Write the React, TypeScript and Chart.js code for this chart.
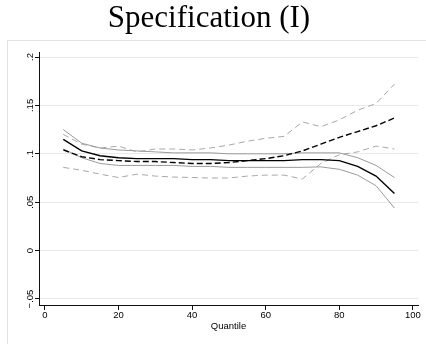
import React, { useEffect, useRef } from "react";
import { Chart, registerables } from "chart.js";

Chart.register(...registerables);

// ---- Data ----
const quantiles = [5, 10, 15, 20, 25, 30, 35, 40, 45, 50, 55, 60, 65, 70, 75, 80, 85, 90, 95];

const estSolid = [0.115, 0.103, 0.098, 0.096, 0.095, 0.095, 0.095, 0.094, 0.094, 0.093, 0.093, 0.093, 0.093, 0.094, 0.094, 0.093, 0.087, 0.077, 0.059];
const ciSolidHigh = [0.125, 0.111, 0.106, 0.104, 0.103, 0.102, 0.101, 0.101, 0.101, 0.1, 0.1, 0.1, 0.1, 0.101, 0.101, 0.101, 0.096, 0.088, 0.0755];
const ciSolidLow = [0.105, 0.096, 0.09, 0.088, 0.088, 0.088, 0.088, 0.087, 0.087, 0.086, 0.086, 0.086, 0.086, 0.086, 0.0865, 0.084, 0.078, 0.067, 0.044];

const estDashed = [0.104, 0.097, 0.094, 0.093, 0.092, 0.092, 0.091, 0.09, 0.09, 0.091, 0.093, 0.095, 0.098, 0.103, 0.11, 0.117, 0.123, 0.129, 0.137];
const ciDashedHigh = [0.12, 0.11, 0.106, 0.108, 0.102, 0.105, 0.105, 0.104, 0.106, 0.109, 0.113, 0.116, 0.118, 0.133, 0.128, 0.135, 0.145, 0.152, 0.172];
const ciDashedLow = [0.086, 0.083, 0.079, 0.0755, 0.079, 0.077, 0.076, 0.0755, 0.075, 0.075, 0.077, 0.078, 0.078, 0.074, 0.09, 0.099, 0.102, 0.108, 0.105];

const xTickValues = [0, 20, 40, 60, 80, 100];
const xTickLabels = ["0", "20", "40", "60", "80", "100"];
const yTickValues = [-0.05, 0, 0.05, 0.1, 0.15, 0.2];
const yTickLabels = ["\u2212.05", "0", ".05", ".1", ".15", ".2"];

const titleText = "Specification (I)";
const xAxisTitle = "Quantile";

const pts = (vals: number[]) => quantiles.map((q, i) => ({ x: q, y: vals[i] }));

const framePlugin = {
  id: "outerFrame",
  beforeDraw(chart: any) {
    const ctx = chart.ctx;
    ctx.save();
    ctx.strokeStyle = "#e2e2e2";
    ctx.lineWidth = 1;
    ctx.strokeRect(7.5, 40.5, 430, 320);
    ctx.restore();
  },
};

const yLabelPlugin = {
  id: "rotatedYLabels",
  afterDraw(chart: any) {
    const ys = chart.scales.y;
    const ctx = chart.ctx;
    ctx.save();
    ctx.font = '9.5px "Liberation Sans"';
    ctx.fillStyle = "#000";
    ctx.textAlign = "center";
    ctx.textBaseline = "alphabetic";
    ys.ticks.forEach((t: any, i: number) => {
      const y = ys.getPixelForValue(t.value);
      ctx.save();
      ctx.translate(32.5, y);
      ctx.rotate(-Math.PI / 2);
      ctx.fillText(yTickLabels[i], 0, 0);
      ctx.restore();
    });
    ctx.restore();
  },
};

export default function App() {
  const ref = useRef<HTMLCanvasElement | null>(null);

  useEffect(() => {
    if (!ref.current) return;
    const chart = new Chart(ref.current, {
      type: "line",
      data: {
        datasets: [
          { data: pts(estSolid), borderColor: "#000", borderWidth: 1.4 },
          { data: pts(estDashed), borderColor: "#000", borderWidth: 1.4, borderDash: [6, 3] },
          { data: pts(ciSolidHigh), borderColor: "#9a9a9a", borderWidth: 1 },
          { data: pts(ciSolidLow), borderColor: "#9a9a9a", borderWidth: 1 },
          { data: pts(ciDashedHigh), borderColor: "#a8a8a8", borderWidth: 1, borderDash: [6, 4] },
          { data: pts(ciDashedLow), borderColor: "#a8a8a8", borderWidth: 1, borderDash: [6, 4] },
        ] as any,
      },
      options: {
        animation: false,
        responsive: false,
        devicePixelRatio: 1,
        parsing: false as any,
        elements: { point: { radius: 0 }, line: { tension: 0, fill: false } },
        layout: { padding: { left: 0, right: 8, top: 0, bottom: 0 } },
        plugins: {
          legend: { display: false },
          tooltip: { enabled: false },
          title: {
            display: true,
            text: titleText,
            color: "#000",
            font: { family: '"Liberation Serif"', size: 31, weight: "normal", lineHeight: 1.2 },
            padding: { top: 0, bottom: 14.8 },
          },
        },
        scales: {
          x: {
            type: "linear",
            min: -1.6,
            max: 101.4,
            afterBuildTicks: (s: any) => {
              s.ticks = xTickValues.map((v) => ({ value: v }));
            },
            afterFit: (s: any) => {
              s.height = 39;
            },
            ticks: {
              autoSkip: false,
              maxRotation: 0,
              minRotation: 0,
              padding: 0,
              color: "#000",
              font: { family: '"Liberation Sans"', size: 9.5 },
              callback: (_v: any, i: number) => xTickLabels[i],
            },
            grid: { drawOnChartArea: false, drawTicks: true, tickLength: 5, tickColor: "#111", tickWidth: 1 },
            border: { display: true, color: "#111", width: 1 },
            title: {
              display: true,
              text: xAxisTitle,
              color: "#000",
              font: { family: '"Liberation Sans"', size: 9.5, lineHeight: 1.2 },
              padding: { top: 0, bottom: 11.7 },
            },
          },
          y: {
            type: "linear",
            min: -0.0562,
            max: 0.2052,
            afterBuildTicks: (s: any) => {
              s.ticks = yTickValues.map((v) => ({ value: v }));
            },
            afterFit: (s: any) => {
              s.width = 39;
            },
            ticks: { display: false },
            grid: { color: "#e9e9e9", lineWidth: 1, drawTicks: true, tickLength: 4, tickColor: "#111", tickWidth: 1 },
            border: { display: true, color: "#111", width: 1 },
          },
        },
      } as any,
      plugins: [framePlugin, yLabelPlugin],
    });
    return () => chart.destroy();
  }, []);

  return (
    <div style={{ position: "absolute", left: 0, top: 0, width: 426, height: 344, background: "#fff" }}>
      <canvas ref={ref} width={426} height={344} />
    </div>
  );
}
